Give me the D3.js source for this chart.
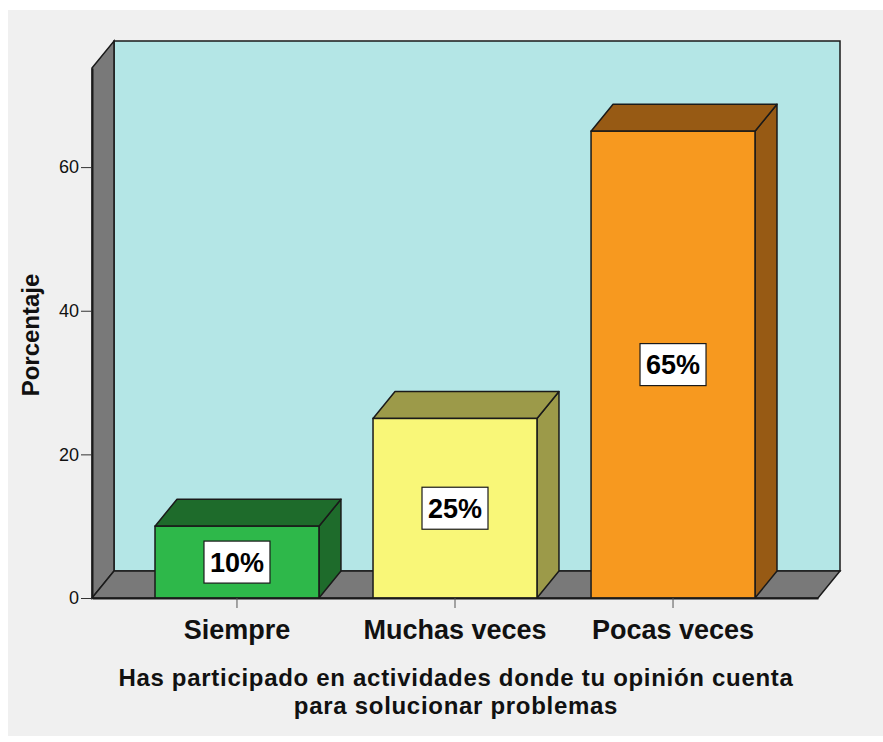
<!DOCTYPE html>
<html>
<head>
<meta charset="utf-8">
<script src="https://cdn.jsdelivr.net/npm/d3@7"></script>
<style>
    html, body { margin: 0; padding: 0; background: #ffffff; }
    svg { display: block; font-family: "Liberation Sans", Arial, sans-serif; }
</style>
</head>
<body>
<div id="chart"></div>
<script>
// datos
const categories = ["Siempre", "Muchas veces", "Pocas veces"];
const percentValues = [10, 25, 65];
const barLabels = ["10%", "25%", "65%"];
const yTicks = [0, 20, 40, 60];
const barColors = ["#2eb84a", "#f9f778", "#f7991f"];
const barDarkColors = ["#1e6b2b", "#9c9a49", "#975a14"];
const titleLines = ["Has participado en actividades donde tu opinión cuenta", "para solucionar problemas"];

const width = 883, height = 742;
const depthX = 22, depthY = -27;

const svg = d3.select("#chart").append("svg")
    .attr("width", width)
    .attr("height", height);

// fondo gris
svg.append("rect")
    .attr("x", 8).attr("y", 10)
    .attr("width", width - 8).attr("height", 726)
    .attr("fill", "#f0f0f0");

// escalas (plano frontal)
const y = d3.scaleLinear().domain([0, 73.8]).range([598, 68]);
const x = d3.scaleBand()
    .domain(categories)
    .range([92, 818])
    .paddingInner(0.248)
    .paddingOuter(0.289);

const x0 = x.range()[0], x1 = x.range()[1];
const yBase = y(0), yTop = y.range()[1];
const stroke = "#1a1a1a";

function poly(pts) {
    return "M" + pts.map(p => p.join(",")).join("L") + "Z";
}

// paredes
const walls = svg.append("g");
walls.append("path")
    .attr("d", poly([[x0 + depthX, yTop + depthY], [x1 + depthX, yTop + depthY], [x1 + depthX, yBase + depthY], [x0 + depthX, yBase + depthY]]))
    .attr("fill", "#b4e6e6").attr("stroke", stroke).attr("stroke-width", 1.5);
walls.append("path")
    .attr("d", poly([[x0, yTop], [x0 + depthX, yTop + depthY], [x0 + depthX, yBase + depthY], [x0, yBase]]))
    .attr("fill", "#797979").attr("stroke", stroke).attr("stroke-width", 1.5);
walls.append("path")
    .attr("d", poly([[x0, yBase], [x0 + depthX, yBase + depthY], [x1 + depthX, yBase + depthY], [x1, yBase]]))
    .attr("fill", "#797979").attr("stroke", stroke).attr("stroke-width", 1.5);

// barras 3D
const bars = svg.selectAll(".bar")
    .data(categories.map((c, i) => ({ name: c, value: percentValues[i], label: barLabels[i], i: i })))
    .enter().append("g")
    .attr("class", "bar");

bars.append("path")
    .attr("d", d => {
        const bx = x(d.name) + x.bandwidth(), ty = y(d.value);
        return poly([[bx, ty], [bx + depthX, ty + depthY], [bx + depthX, yBase + depthY], [bx, yBase]]);
    })
    .attr("fill", d => barDarkColors[d.i]).attr("stroke", stroke).attr("stroke-width", 1.5).attr("stroke-linejoin", "round");

bars.append("path")
    .attr("d", d => {
        const bx = x(d.name), bw = x.bandwidth(), ty = y(d.value);
        return poly([[bx, ty], [bx + depthX, ty + depthY], [bx + bw + depthX, ty + depthY], [bx + bw, ty]]);
    })
    .attr("fill", d => barDarkColors[d.i]).attr("stroke", stroke).attr("stroke-width", 1.5).attr("stroke-linejoin", "round");

bars.append("rect")
    .attr("x", d => x(d.name))
    .attr("y", d => y(d.value))
    .attr("width", x.bandwidth())
    .attr("height", d => yBase - y(d.value))
    .attr("fill", d => barColors[d.i]).attr("stroke", stroke).attr("stroke-width", 1.5);

// etiquetas de valor
bars.each(function(d) {
    const g = d3.select(this);
    const cx = x(d.name) + x.bandwidth() / 2;
    const cy = (y(d.value) + yBase) / 2;
    g.append("rect")
        .attr("x", cx - 33).attr("y", cy - 21)
        .attr("width", 66).attr("height", 42)
        .attr("fill", "#ffffff").attr("stroke", stroke).attr("stroke-width", 1.2);
    g.append("text")
        .attr("x", cx).attr("y", cy)
        .attr("dy", "0.36em")
        .attr("text-anchor", "middle")
        .attr("font-size", 27)
        .attr("font-weight", "bold")
        .attr("fill", "#000")
        .text(d.label);
});

// ejes
const yAxis = svg.append("g")
    .attr("transform", `translate(${x0},0)`)
    .call(d3.axisLeft(y).tickValues(yTicks).tickSize(11).tickSizeOuter(0).tickPadding(2));
yAxis.select(".domain").attr("stroke", stroke).attr("stroke-width", 2);
yAxis.selectAll(".tick line").attr("stroke", "#333");
yAxis.selectAll(".tick text").attr("font-size", 18).attr("fill", "#111").attr("font-family", "Liberation Sans, Arial, sans-serif");

const xAxis = svg.append("g")
    .attr("transform", `translate(0,${yBase})`)
    .call(d3.axisBottom(x).tickSize(10).tickSizeOuter(0).tickPadding(12));
xAxis.select(".domain").attr("stroke", stroke).attr("stroke-width", 2);
xAxis.selectAll(".tick line").attr("stroke", "#555");
xAxis.selectAll(".tick text").attr("font-size", 27).attr("font-weight", "bold").attr("fill", "#111").attr("font-family", "Liberation Sans, Arial, sans-serif");

// títulos
svg.append("text")
    .attr("transform", "translate(39,335) rotate(-90)")
    .attr("text-anchor", "middle")
    .attr("font-size", 24).attr("font-weight", "bold").attr("fill", "#111")
    .text("Porcentaje");

svg.selectAll(".xtitle")
    .data(titleLines)
    .enter().append("text")
    .attr("x", 456)
    .attr("y", (d, i) => 686 + i * 27.5)
    .attr("text-anchor", "middle")
    .attr("font-size", 24).attr("font-weight", "bold").attr("fill", "#111")
    .attr("letter-spacing", 0.7)
    .text(d => d);
</script>
</body>
</html>
